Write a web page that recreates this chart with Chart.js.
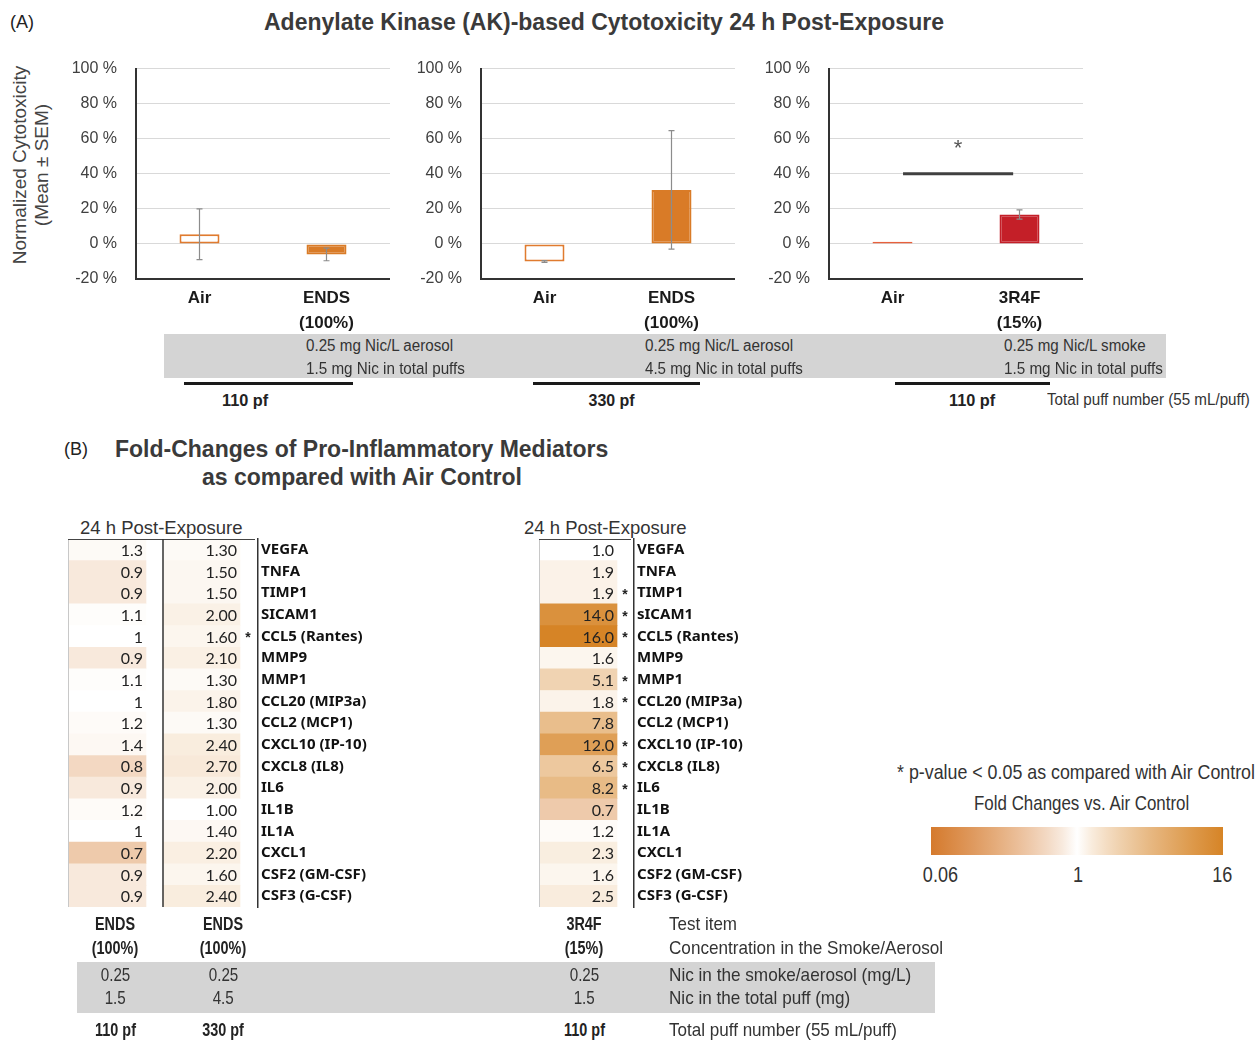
<!DOCTYPE html>
<html>
<head>
<meta charset="utf-8">
<script src="https://cdn.jsdelivr.net/npm/chart.js@4.4.0/dist/chart.umd.min.js"></script>
<style>
  body { margin: 0; background: #fff; }
  #fig { position: relative; width: 1260px; height: 1042px; overflow: hidden;
         font-family: "Liberation Sans", Arial, sans-serif; color: #333; }
  .t { position: absolute; white-space: nowrap; }
  .band { position: absolute; background: #d4d4d4; }
  .rule { position: absolute; background: #1a1a1a; height: 3px; }
  canvas { position: absolute; }
</style>
</head>
<body>
<div id="fig"></div>
<script>
// ---------- Panel A: AK cytotoxicity (normalized %, mean and SEM) ----------
const cytoCatsEnds = ['Air', ['ENDS', '(100%)']];
const cytoCats3r4f = ['Air', ['3R4F', '(15%)']];
const ends110Mean = [5.5, -6.0];
const ends110Sem  = [14.5, 3.6];
const ends330Mean = [-10.0, 30.8];
const ends330Sem  = [0.5, 33.8];
const ref3r4fMean = [1.2, 16.8];
const ref3r4fSem  = [0, 2.6];
const sigLevel3r4f = 40;
const cytoTicks = [-20, 0, 20, 40, 60, 80, 100];

const exposureNotesA = [
  ['0.25 mg Nic/L aerosol', '1.5 mg Nic in total puffs'],
  ['0.25 mg Nic/L aerosol', '4.5 mg Nic in total puffs'],
  ['0.25 mg Nic/L smoke', '1.5 mg Nic in total puffs']
];
const puffLabelsA = ['110 pf', '330 pf', '110 pf'];

// ---------- Panel B: fold changes vs. air control ----------
const genesEnds = ['VEGFA','TNFA','TIMP1','SICAM1','CCL5 (Rantes)','MMP9','MMP1','CCL20 (MIP3a)',
  'CCL2 (MCP1)','CXCL10 (IP-10)','CXCL8 (IL8)','IL6','IL1B','IL1A','CXCL1','CSF2 (GM-CSF)','CSF3 (G-CSF)'];
const genes3r4f = ['VEGFA','TNFA','TIMP1','sICAM1','CCL5 (Rantes)','MMP9','MMP1','CCL20 (MIP3a)',
  'CCL2 (MCP1)','CXCL10 (IP-10)','CXCL8 (IL8)','IL6','IL1B','IL1A','CXCL1','CSF2 (GM-CSF)','CSF3 (G-CSF)'];
const foldEnds110 = [1.3, 0.9, 0.9, 1.1, 1, 0.9, 1.1, 1, 1.2, 1.4, 0.8, 0.9, 1.2, 1, 0.7, 0.9, 0.9];
const sigEnds110  = [0, 0, 0, 0, 0, 0, 0, 0, 0, 0, 0, 0, 0, 0, 0, 0, 0];
const foldEnds330 = [1.30, 1.50, 1.50, 2.00, 1.60, 2.10, 1.30, 1.80, 1.30, 2.40, 2.70, 2.00, 1.00, 1.40, 2.20, 1.60, 2.40];
const sigEnds330  = [0, 0, 0, 0, 1, 0, 0, 0, 0, 0, 0, 0, 0, 0, 0, 0, 0];
const fold3r4f    = [1.0, 1.9, 1.9, 14.0, 16.0, 1.6, 5.1, 1.8, 7.8, 12.0, 6.5, 8.2, 0.7, 1.2, 2.3, 1.6, 2.5];
const sig3r4f     = [0, 0, 1, 1, 1, 0, 1, 1, 0, 1, 1, 1, 0, 0, 0, 0, 0];
const foldScale   = [0.06, 1, 16];

const testItems   = [['ENDS', '(100%)'], ['ENDS', '(100%)'], ['3R4F', '(15%)']];
const nicConc     = ['0.25', '0.25', '0.25'];
const nicTotal    = ['1.5', '4.5', '1.5'];
const puffLabelsB = ['110 pf', '330 pf', '110 pf'];

const SANS = '"Liberation Sans", Arial, sans-serif';
const fig = document.getElementById('fig');

// Places a line of text; `cy` is its vertical centre. `fit` squeezes the run
// horizontally to a given width (condensed look), `sx` applies a fixed squeeze.
function text(str, x, cy, o = {}) {
  const size = o.size || 16, h = o.lh || Math.round(size * 1.25);
  const d = document.createElement('div');
  d.className = 't';
  d.textContent = str;
  d.style.fontSize = size + 'px';
  d.style.fontWeight = o.weight || 400;
  d.style.color = o.color || '#333';
  d.style.lineHeight = h + 'px';
  d.style.top = (cy - h / 2) + 'px';
  fig.appendChild(d);
  const w = d.offsetWidth;
  const sx = o.fit ? o.fit / w : (o.sx || 1);
  const align = o.align || 'left';
  if (align === 'center') { d.style.left = (x - w / 2) + 'px'; d.style.transformOrigin = '50% 50%'; }
  else if (align === 'right') { d.style.left = (x - w) + 'px'; d.style.transformOrigin = '100% 50%'; }
  else { d.style.left = x + 'px'; d.style.transformOrigin = '0 50%'; }
  if (sx !== 1) d.style.transform = 'scaleX(' + sx.toFixed(4) + ')';
  return d;
}
function box(cls, x, y, w, h) {
  const d = document.createElement('div');
  d.className = cls;
  Object.assign(d.style, { left: x + 'px', top: y + 'px', width: w + 'px', height: h + 'px' });
  fig.appendChild(d);
  return d;
}
function makeCanvas(left, top, w, h) {
  const c = document.createElement('canvas');
  c.width = w; c.height = h;
  Object.assign(c.style, { left: left + 'px', top: top + 'px', width: w + 'px', height: h + 'px' });
  fig.appendChild(c);
  return c;
}

// Diverging white-to-orange colour scale (0.06 .. 1 .. 16)
const lowColor = [213, 122, 45], highColor = [214, 132, 38];
function mixColor(c, t) {
  t = Math.pow(Math.max(0, Math.min(1, t)), 0.8);
  return 'rgb(' + c.map(k => Math.round(255 - (255 - k) * t)).join(',') + ')';
}
function foldColor(v) {
  const [lo, mid, hi] = foldScale;
  return v >= mid ? mixColor(highColor, (v - mid) / (hi - mid)) : mixColor(lowColor, (mid - v) / (mid - lo));
}

// ---------- plugins ----------
const semBars = {
  id: 'semBars',
  afterDatasetsDraw(chart) {
    const ctx = chart.ctx, y = chart.scales.y;
    chart.data.datasets.forEach((ds, di) => {
      if (!ds.sem) return;
      chart.getDatasetMeta(di).data.forEach((bar, i) => {
        const s = ds.sem[i];
        if (!s) return;
        const v = ds.data[i];
        const top = y.getPixelForValue(v + s), bot = y.getPixelForValue(v - s);
        ctx.save();
        ctx.strokeStyle = '#8c8c8c';
        ctx.lineWidth = 1.2;
        ctx.beginPath();
        ctx.moveTo(bar.x, top); ctx.lineTo(bar.x, bot);
        ctx.moveTo(bar.x - 3, top); ctx.lineTo(bar.x + 3, top);
        ctx.moveTo(bar.x - 3, bot); ctx.lineTo(bar.x + 3, bot);
        ctx.stroke();
        ctx.restore();
      });
    });
  }
};

const sigBracket = {
  id: 'sigBracket',
  afterDatasetsDraw(chart, args, o) {
    if (!o || o.level == null) return;
    const { ctx, scales: { x, y } } = chart;
    const x0 = x.getPixelForValue(0), x1 = x.getPixelForValue(1);
    const xa = x0 + (x1 - x0) * o.from, xb = x0 + (x1 - x0) * o.to;
    const py = y.getPixelForValue(o.level);
    ctx.save();
    ctx.strokeStyle = '#404040';
    ctx.lineWidth = 3;
    ctx.beginPath(); ctx.moveTo(xa, py); ctx.lineTo(xb, py); ctx.stroke();
    ctx.fillStyle = '#555';
    ctx.font = '22px ' + SANS;
    ctx.textAlign = 'center';
    ctx.textBaseline = 'middle';
    ctx.fillText(o.text, (xa + xb) / 2, y.getPixelForValue(o.textLevel));
    ctx.restore();
  }
};

const cellText = {
  id: 'cellText',
  afterDatasetsDraw(chart) {
    const ctx = chart.ctx;
    ctx.save();
    ctx.textBaseline = 'middle';
    ctx.fillStyle = '#222';
    chart.data.datasets.forEach((ds, di) => {
      chart.getDatasetMeta(di).data.forEach((el, i) => {
        const right = Math.max(el.x, el.base);
        ctx.font = '16px Lato, "Open Sans", sans-serif';
        ctx.textAlign = 'right';
        ctx.fillText(ds.fmt(ds.values[i]), right - 3, el.y + 1);
        if (ds.sig && ds.sig[i]) {
          ctx.font = 'bold 14px ' + SANS;
          ctx.textAlign = 'center';
          ctx.fillText('*', right + 8, el.y + 2);
        }
      });
    });
    ctx.restore();
  }
};

const heatFrame = {
  id: 'heatFrame',
  afterDraw(chart) {
    const { ctx, chartArea: a, scales: { x } } = chart;
    ctx.save();
    ctx.strokeStyle = '#c8c8c8';
    ctx.lineWidth = 1;
    ctx.beginPath(); ctx.moveTo(a.left + 0.5, a.top); ctx.lineTo(a.left + 0.5, a.bottom); ctx.stroke();
    ctx.strokeStyle = '#444';
    ctx.beginPath(); ctx.moveTo(a.left, a.top + 0.5); ctx.lineTo(a.right - 3, a.top + 0.5); ctx.stroke();
    ctx.strokeStyle = '#333';
    ctx.lineWidth = 1.5;
    chart.data.datasets.forEach((ds, di) => {
      if (di === 0) return;
      const px = Math.round(x.getPixelForValue(ds.data[0][0]));
      ctx.beginPath(); ctx.moveTo(px, a.top); ctx.lineTo(px, a.bottom); ctx.stroke();
    });
    ctx.restore();
  }
};

// ---------- chart builders ----------
function cytoChart(left, cats, means, sems, fills, strokes, sig) {
  const c = makeCanvas(left, 40, 330, 299);
  return new Chart(c, {
    type: 'bar',
    data: { labels: cats, datasets: [{
      data: means, sem: sems, backgroundColor: fills, borderColor: strokes,
      borderWidth: 2, borderSkipped: false, barPercentage: 0.315, categoryPercentage: 1
    }]},
    options: {
      responsive: false, animation: false,
      layout: { padding: { top: 0, left: 0, right: 0, bottom: 0 } },
      plugins: { legend: { display: false }, tooltip: { enabled: false }, sigBracket: sig || {} },
      scales: {
        x: {
          grid: { display: false, drawTicks: false },
          border: { display: true, color: '#333', width: 2 },
          ticks: { color: '#1a1a1a', padding: 7, font: { family: SANS, size: 17, weight: 'bold', lineHeight: 1.45 } },
          afterFit(s) { s.height = 60; }
        },
        y: {
          min: cytoTicks[0], max: cytoTicks[cytoTicks.length - 1],
          afterBuildTicks(s) { s.ticks = cytoTicks.map(v => ({ value: v })); },
          ticks: { callback: v => v + ' %', color: '#404040', padding: 19, font: { family: SANS, size: 16 } },
          grid: { drawTicks: false, color: ctx => ctx.tick && ctx.tick.value === cytoTicks[0] ? 'rgba(0,0,0,0)' : '#d9d9d9' },
          border: { color: '#333', width: 2 },
          afterFit(s) { s.width = 76; }
        }
      }
    },
    plugins: [semBars, sigBracket]
  });
}

function heatChart(left, width, padLeft, axisWidth, maxX, genes, columns) {
  const c = makeCanvas(left, 527, width, 392);
  const datasets = columns.map(col => ({
    data: col.values.map(() => col.span.slice()),
    values: col.values, sig: col.sig, fmt: col.fmt,
    backgroundColor: col.values.map(foldColor),
    borderWidth: 0, barPercentage: 1, categoryPercentage: 1, grouped: false
  }));
  return new Chart(c, {
    type: 'bar',
    data: { labels: genes, datasets },
    options: {
      indexAxis: 'y', responsive: false, animation: false,
      layout: { padding: { left: padLeft, top: 0, bottom: 0, right: 0 } },
      plugins: { legend: { display: false }, tooltip: { enabled: false } },
      scales: {
        x: { display: false, min: 0, max: maxX },
        y: {
          position: 'right',
          grid: { display: false, drawTicks: false },
          border: { color: '#333', width: 1.5 },
          ticks: { color: '#111', padding: 3, font: { family: '"Noto Sans", sans-serif', size: 15, weight: 'bold' } },
          afterFit(s) { s.width = axisWidth; }
        }
      }
    },
    plugins: [cellText, heatFrame]
  });
}

// ---------- Panel A ----------
text('(A)', 10, 22, { size: 18, color: '#222' });
text('Adenylate Kinase (AK)-based Cytotoxicity 24 h Post-Exposure', 604, 22,
     { size: 23, weight: 700, align: 'center', color: '#3a3a3a' });
const yTitle = document.createElement('div');
yTitle.className = 't';
yTitle.innerHTML = 'Normalized Cytotoxicity<br>(Mean ± SEM)';
Object.assign(yTitle.style, { left: (31 - 130) + 'px', top: (165 - 22) + 'px', width: '260px', height: '44px',
  fontSize: '19px', lineHeight: '22px', textAlign: 'center', color: '#444', transform: 'rotate(-90deg)' });
fig.appendChild(yTitle);

cytoChart(60, cytoCatsEnds, ends110Mean, ends110Sem, ['#ffffff', '#d97b27'], ['#e07b2f', '#d97b27']);
cytoChart(405, cytoCatsEnds, ends330Mean, ends330Sem, ['#ffffff', '#d97b27'], ['#e07b2f', '#d97b27']);
cytoChart(753, cytoCats3r4f, ref3r4fMean, ref3r4fSem, ['#e8603c', '#c41f28'], ['#e8603c', '#c41f28'],
          { level: sigLevel3r4f, from: 0.083, to: 0.95, text: '*', textLevel: 54 });

box('band', 164, 334, 1002, 44);
const noteX = [306, 645, 1004];
const noteW = [[147, 159], [148, 158], [142, 159]];
exposureNotesA.forEach((lines, i) => {
  text(lines[0], noteX[i], 346, { size: 16, fit: noteW[i][0], color: '#333' });
  text(lines[1], noteX[i], 369, { size: 16, fit: noteW[i][1], color: '#333' });
});
[[184, 353], [533, 700], [895, 1050]].forEach(([a, b]) => box('rule', a, 382, b - a, 3));
const puffX = [245, 611, 972];
puffLabelsA.forEach((s, i) => text(s, puffX[i], 400, { size: 17, weight: 700, fit: 46, align: 'center', color: '#222' }));
text('Total puff number (55 mL/puff)', 1047, 400, { size: 16, fit: 203, color: '#333' });

// ---------- Panel B ----------
text('(B)', 64, 449, { size: 18, color: '#222' });
text('Fold-Changes of Pro-Inflammatory Mediators', 115, 449, { size: 23, weight: 700, color: '#3a3a3a' });
text('as compared with Air Control', 202, 477, { size: 23, weight: 700, color: '#3a3a3a' });
text('24 h Post-Exposure', 80, 527, { size: 18.5, color: '#333' });
text('24 h Post-Exposure', 524, 527, { size: 18.5, color: '#333' });

const colW = 78;
heatChart(60, 340, 8, 142, 190 / colW, genesEnds, [
  { values: foldEnds110, sig: sigEnds110, span: [0, 1], fmt: v => String(v) },
  { values: foldEnds330, sig: sigEnds330, span: [95 / colW, 172 / colW], fmt: v => v.toFixed(2) }
]);
heatChart(530, 260, 9, 156, 95 / colW, genes3r4f, [
  { values: fold3r4f, sig: sig3r4f, span: [0, 1], fmt: v => v.toFixed(1) }
]);

const colX = [115, 223, 584];
const NSX = 0.8;
testItems.forEach((lines, i) => {
  text(lines[0], colX[i], 924, { size: 18, weight: 700, sx: NSX, align: 'center', color: '#222' });
  text(lines[1], colX[i], 948, { size: 18, weight: 700, sx: NSX, align: 'center', color: '#222' });
});
text('Test item', 669, 924, { size: 19, fit: 68, color: '#333' });
text('Concentration in the Smoke/Aerosol', 669, 948, { size: 19, fit: 274, color: '#333' });
box('band', 77, 962, 858, 51);
nicConc.forEach((s, i) => text(s, colX[i], 975, { size: 19, sx: NSX, align: 'center', color: '#333' }));
nicTotal.forEach((s, i) => text(s, colX[i], 998, { size: 19, sx: NSX, align: 'center', color: '#333' }));
text('Nic in the smoke/aerosol (mg/L)', 669, 975, { size: 19, fit: 242, color: '#333' });
text('Nic in the total puff (mg)', 669, 998, { size: 19, fit: 181, color: '#333' });
puffLabelsB.forEach((s, i) => text(s, colX[i], 1030, { size: 18, weight: 700, sx: NSX, align: 'center', color: '#222' }));
text('Total puff number (55 mL/puff)', 669, 1030, { size: 19, fit: 228, color: '#333' });

// colour key
text('* p-value < 0.05 as compared with Air Control', 1076, 772, { size: 21, fit: 358, align: 'center', color: '#333' });
text('Fold Changes vs. Air Control', 1081, 803, { size: 21, fit: 215, align: 'center', color: '#333' });
const key = box('t', 931, 827, 292, 28);
const stops = [];
for (let k = 0; k <= 20; k++) {
  const f = k / 20;
  const col = f < 0.5 ? mixColor(lowColor, 1 - f * 2) : mixColor(highColor, (f - 0.5) * 2);
  stops.push(col + ' ' + (f * 100).toFixed(1) + '%');
}
key.style.background = 'linear-gradient(to right, ' + stops.join(', ') + ')';
text(String(foldScale[0]), 940, 875, { size: 22, sx: 0.82, align: 'center', color: '#333' });
text(String(foldScale[1]), 1078, 875, { size: 22, sx: 0.82, align: 'center', color: '#333' });
text(String(foldScale[2]), 1222, 875, { size: 22, sx: 0.82, align: 'center', color: '#333' });
</script>
</body>
</html>
